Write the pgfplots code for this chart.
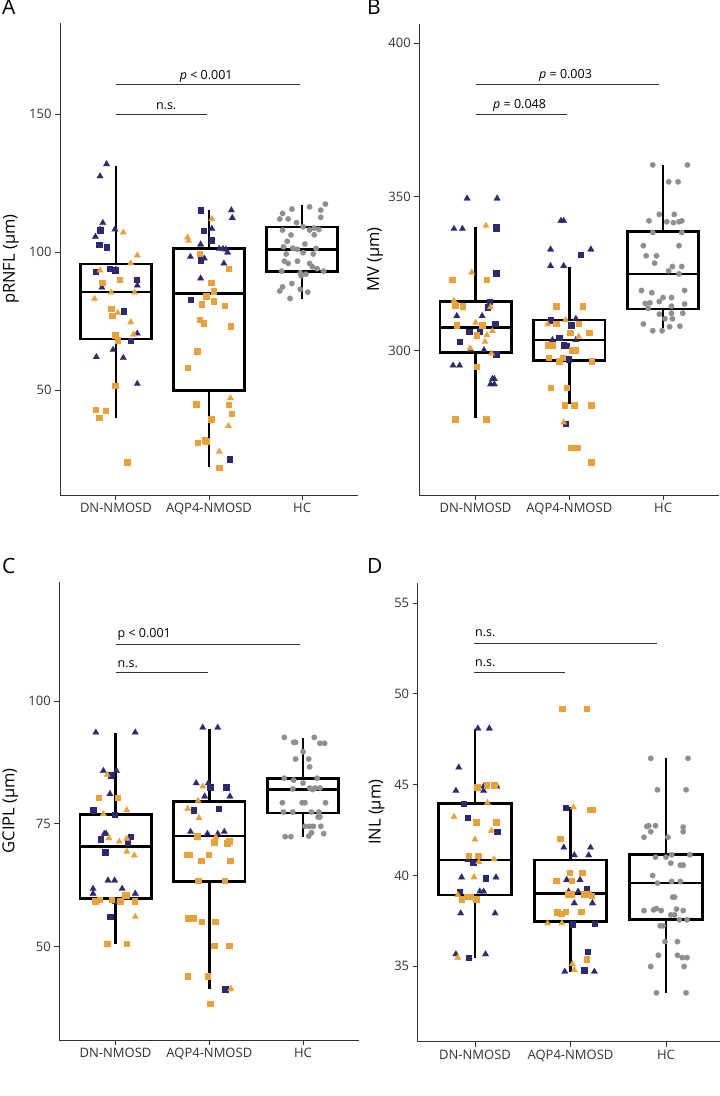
\documentclass[border=0pt]{standalone}
\usepackage{fontspec}
\setmainfont{Open Sans}
\usepackage{pgfplots}
\pgfplotsset{compat=1.18}
\definecolor{navyc}{HTML}{2C2A6F}
\definecolor{orangec}{HTML}{E9A23B}
\definecolor{grayc}{HTML}{8F8F8F}
\definecolor{axisc}{HTML}{333333}
\definecolor{labc}{HTML}{333333}
\pgfplotsset{
  panel/.style={scale only axis, xmin=0.4, xmax=3.6,
    axis x line*=bottom, axis y line*=left,
    axis line style={draw=axisc, line width=0.9pt, -},
    tick style={draw=axisc, line width=0.9pt},
    tick align=outside, major tick length=5pt,
    xtick={1,2,3}, xticklabels={DN-NMOSD,AQP4-NMOSD,HC},
    tick label style={font=\fontsize{13}{15}\selectfont, text=labc},
    /pgf/number format/assume math mode=true,
    clip=false,
    every axis y label/.style={rotate=90, anchor=center, font=\fontsize{16.5}{18}\selectfont, text=black}},
  ntri/.style={only marks, draw=navyc, fill=navyc, mark=triangle*, mark size=3.8pt, mark options={line width=0.1pt}},
  nsq/.style={only marks, draw=navyc, fill=navyc, mark=square*, mark size=2.7pt, mark options={line width=0.1pt}},
  otri/.style={only marks, draw=orangec, fill=orangec, mark=triangle*, mark size=3.8pt, mark options={line width=0.1pt}},
  osq/.style={only marks, draw=orangec, fill=orangec, mark=square*, mark size=2.7pt, mark options={line width=0.1pt}},
  gcirc/.style={only marks, draw=grayc, fill=grayc, mark=*, mark size=2.8pt, mark options={line width=0.1pt}},
  bx/.style={draw=black, line width=2.7pt, mark=none, solid, line join=miter},
}
% box: left, centre, right, lower whisker, Q1, median, Q3, upper whisker
\newcommand{\bxp}[8]{%
  \addplot[bx] coordinates {(#2,#5)(#3,#5)(#3,#7)(#1,#7)(#1,#5)(#2,#5)};
  \addplot[bx] coordinates {(#1,#6)(#3,#6)};
  \addplot[bx] coordinates {(#2,#7)(#2,#8)};
  \addplot[bx] coordinates {(#2,#5)(#2,#4)};
}
\tikzset{brk/.style={draw=axisc, line width=0.9pt}, sig/.style={font=\fontsize{12.5}{14}\selectfont, text=black}}
\begin{document}
\begin{tikzpicture}[x=1pt,y=1pt]
% ---------------- Panel A
\begin{axis}[panel, at={(60pt,601pt)}, anchor=south west, width=298pt, height=471.7pt,
  ymin=12.0, ymax=182.9, ytick={50,100,150}, ylabel={pRNFL (µm)},
  ylabel style={at={(axis description cs:-0.1644,0.5)}}]
\bxp{0.62}{1}{1.38}{40.0}{68.5}{85.5}{95.7}{131.3}
\bxp{1.62}{2}{2.38}{22.0}{49.8}{85.0}{101.2}{115.2}
\bxp{2.62}{3}{3.38}{82.9}{93.0}{101.0}{109.1}{117.1}
\addplot[ntri] coordinates {(0.90,131.9)(0.83,127.5)(0.86,110.6)(0.83,108.2)(0.78,105.6)(0.99,108.2)(1.00,93.7)(0.85,87.2)(1.23,87.9)(1.23,70.5)(0.97,64.6)(0.79,62.0)(1.08,61.7)(1.23,52.3)
 (2.24,115.2)(2.25,112.4)(2.03,108.5)(1.91,102.8)(2.11,101.2)(2.15,101.2)(2.18,101.0)(2.20,99.9)(1.80,98.3)(1.95,97.7)(2.16,95.9)(1.91,90.5)};
\addplot[nsq] coordinates {(0.83,108.0)(0.82,102.8)(0.90,101.9)(0.93,94.1)(0.99,93.5)(0.78,93.0)(1.22,90.0)(1.08,78.7)(1.16,68.0)
 (1.91,115.2)(1.94,107.9)(2.03,104.3)(1.91,97.1)(1.80,82.9)(2.22,25.0)};
\addplot[otri] coordinates {(1.08,107.1)(1.23,98.8)(1.16,96.0)(0.83,93.4)(0.95,85.4)(1.20,85.4)(0.77,83.1)(1.02,78.0)(1.16,74.6)(1.19,70.2)
 (2.03,112.0)(1.77,105.3)(1.78,104.1)(2.23,47.1)(2.21,37.0)(2.11,27.7)};
\addplot[osq] coordinates {(1.04,90.1)(0.85,88.9)(0.95,79.6)(0.96,77.1)(0.99,70.0)(1.02,68.2)(0.99,51.6)(0.78,43.0)(0.89,42.6)(0.82,40.0)(1.12,23.9)
 (1.90,99.5)(2.21,94.1)(2.02,89.0)(2.05,85.9)(1.97,84.1)(2.05,82.3)(1.92,81.2)(2.17,80.6)(1.90,75.6)(1.94,74.3)(2.23,73.2)(1.87,64.1)(1.77,58.1)(1.86,45.0)(2.21,44.8)(2.24,41.5)(2.02,39.5)(1.95,31.9)(1.97,31.5)(1.88,30.9)(2.11,22.0)};
\addplot[gcirc] coordinates {(3.25,117.4)(3.08,116.4)(2.89,115.6)(2.79,114.0)(3.20,115.2)(2.76,112.0)(2.85,112.0)(2.94,110.7)(3.20,112.6)(3.01,109.2)(3.13,108.7)(3.08,108.0)(3.18,108.2)(2.79,108.0)(2.88,106.2)(3.13,106.3)(2.84,103.9)(3.03,102.9)(2.80,101.9)(2.90,101.4)(2.95,101.0)(3.15,101.3)(2.83,99.3)(3.01,99.8)(3.12,99.3)(2.81,96.7)(2.85,95.9)(2.95,96.7)(3.08,95.9)(3.11,94.7)(3.16,94.0)(3.23,93.1)(2.98,92.5)(3.04,92.0)(2.78,93.1)(2.99,91.5)(2.89,88.6)(2.79,87.4)(2.76,85.9)(2.98,86.5)(3.06,85.5)(2.87,83.2)};
\draw[brk] (axis cs:1,160.6) -- (axis cs:2.98,160.6);
\draw[brk] (axis cs:1,150.0) -- (axis cs:1.98,150.0);
\node[sig, anchor=base] at (axis cs:1.97,162.7) {\textit{p} < 0.001};
\node[sig, anchor=base] at (axis cs:1.54,151.8) {n.s.};
\end{axis}
% ---------------- Panel B
\begin{axis}[panel, at={(419.3pt,601pt)}, anchor=south west, width=300pt, height=471pt,
  ymin=252.9, ymax=406.3, ytick={300,350,400}, ylabel={MV (µm)},
  ylabel style={at={(axis description cs:-0.1467,0.5)}}]
\bxp{0.62}{1}{1.38}{277.9}{299.2}{307.4}{315.9}{340.3}
\bxp{1.62}{2}{2.38}{282.4}{296.6}{303.4}{309.9}{327.3}
\bxp{2.62}{3}{3.38}{307.2}{313.5}{324.9}{338.7}{360.3}
\addplot[ntri] coordinates {(0.91,349.5)(1.23,349.5)(0.77,339.6)(0.86,339.6)(0.80,311.2)(1.07,311.2)(0.95,300.1)(1.09,300.1)(0.76,295.1)(0.83,295.1)(1.18,290.7)(1.20,290.7)(1.16,289.0)(1.20,289.0)
 (1.91,342.2)(1.94,342.2)(1.80,332.9)(2.23,332.9)(1.80,327.5)(1.94,327.5)(2.07,310.3)(1.82,303.4)(2.07,303.4)};
\addplot[nsq] coordinates {(1.22,340.3)(1.22,339.6)(1.22,325.2)(1.15,315.9)(1.13,314.1)(1.21,308.8)(0.93,306.1)(1.04,306.3)(0.83,302.8)(1.22,298.8)
 (2.12,331.2)(1.80,309.9)(2.02,308.3)(1.89,304.1)(1.94,301.7)(1.97,301.5)(1.99,297.2)(1.96,276.2)};
\addplot[otri] coordinates {(1.11,340.6)(0.96,325.4)(0.77,316.2)(1.16,314.1)(1.00,309.0)(1.18,306.3)(1.12,305.0)(1.10,302.8)(0.94,300.7)(1.17,299.0)
 (1.96,309.9)(1.77,308.5)(2.10,304.5)(1.94,276.5)};
\addplot[osq] coordinates {(0.75,323.1)(1.12,323.1)(0.78,314.8)(0.86,314.5)(0.80,308.3)(1.07,308.3)(1.01,305.0)(1.01,294.7)(0.78,277.6)(1.11,277.6)
 (1.86,314.4)(2.14,314.4)(1.86,308.8)(2.10,308.8)(2.01,305.9)(2.21,305.9)(1.77,301.7)(1.82,301.7)(2.03,300.1)(2.06,300.1)(1.78,297.7)(1.93,297.6)(1.89,296.5)(2.24,296.5)(1.80,287.8)(1.97,287.8)(1.95,282.2)(2.05,282.2)(2.23,282.2)(2.02,268.4)(2.09,268.4)(2.23,263.6)};
\addplot[gcirc] coordinates {(2.89,360.4)(3.26,360.4)(3.06,354.9)(3.16,354.9)(2.96,344.3)(3.12,344.3)(2.85,342.2)(3.04,341.9)(3.11,341.6)(3.17,341.9)(3.20,342.2)(2.89,338.4)(3.20,338.4)(2.79,334.1)(3.17,334.1)(2.82,330.8)(2.93,330.8)(2.91,328.4)(3.10,327.3)(3.20,327.3)(3.06,325.9)(3.17,324.9)(2.77,319.5)(2.88,318.8)(3.23,319.5)(3.00,317.2)(3.09,317.2)(2.81,315.3)(2.96,315.9)(2.86,315.5)(3.23,315.1)(2.84,313.7)(3.09,314.4)(2.96,311.8)(3.09,312.1)(3.21,312.1)(3.02,310.3)(3.10,310.3)(2.79,308.6)(3.18,307.9)(3.07,307.7)(2.89,306.4)(2.99,306.4)};
\draw[brk] (axis cs:1,386.5) -- (axis cs:2.96,386.5);
\draw[brk] (axis cs:1,377.0) -- (axis cs:1.98,377.0);
\node[sig, anchor=base] at (axis cs:1.96,388.6) {\textit{p} = 0.003};
\node[sig, anchor=base] at (axis cs:1.47,378.8) {\textit{p} = 0.048};
\end{axis}
% ---------------- Panel C
\begin{axis}[panel, at={(59.3pt,56pt)}, anchor=south west, width=300pt, height=458.3pt,
  ymin=31.0, ymax=124.3, ytick={50,75,100}, ylabel={GCIPL (µm)},
  ylabel style={at={(axis description cs:-0.163,0.5)}}]
\bxp{0.62}{1}{1.38}{50.6}{59.8}{70.4}{76.9}{93.4}
\bxp{1.62}{2}{2.38}{41.3}{63.3}{72.5}{79.6}{94.4}
\bxp{2.62}{3}{3.38}{72.4}{77.2}{82.0}{84.3}{92.5}
\addplot[ntri] coordinates {(0.79,93.6)(1.21,93.6)(0.87,85.8)(1.01,85.8)(0.94,81.1)(0.88,73.0)(0.90,73.0)(0.92,63.5)(0.99,63.5)(0.76,61.8)(1.07,61.8)(0.76,60.8)(1.21,60.8)(1.00,59.1)
 (1.93,94.6)(2.09,94.6)(1.86,83.3)(1.99,83.3)(1.95,80.6)(2.22,80.6)(1.80,73.4)(1.98,73.0)(2.09,73.0)(2.16,73.4)};
\addplot[nsq] coordinates {(0.95,84.9)(0.76,77.8)(0.99,76.9)(0.84,71.9)(1.16,72.4)(1.13,71.3)(0.89,69.3)(0.94,56.1)
 (2.01,82.5)(2.18,82.5)(2.10,78.1)(1.83,77.8)(2.17,41.4)};
\addplot[otri] coordinates {(0.91,85.0)(1.12,77.8)(0.87,77.0)(0.93,72.1)(1.12,72.0)(1.04,71.4)(1.12,69.4)(1.20,68.6)(1.21,56.1)
 (1.93,82.6)(1.88,79.7)(1.77,78.1)(1.89,76.2)(2.07,72.3)(2.23,41.4)};
\addplot[osq] coordinates {(0.82,80.4)(1.02,80.4)(0.78,59.3)(0.83,59.6)(0.96,59.6)(1.05,59.3)(1.10,60.5)(1.12,60.5)(1.20,59.3)(0.91,50.6)(1.12,50.6)
 (1.87,72.5)(2.21,71.5)(2.05,71.3)(2.19,71.1)(1.76,68.8)(1.79,68.8)(1.99,68.8)(1.91,67.5)(2.22,67.5)(1.88,63.5)(2.16,63.5)(1.77,55.8)(1.83,55.8)(1.92,55.1)(2.06,55.1)(2.05,50.2)(2.21,50.2)(1.77,44.0)(1.98,44.0)(2.01,38.4)};
\addplot[gcirc] coordinates {(2.80,92.6)(3.12,92.6)(2.90,91.6)(2.92,91.6)(3.18,91.4)(3.23,91.4)(3.00,89.7)(2.92,88.2)(3.06,88.2)(3.07,86.6)(2.80,84.3)(2.90,83.9)(3.15,84.3)(3.00,83.3)(2.89,82.1)(3.07,82.3)(3.10,82.0)(3.13,82.3)(3.18,82.3)(2.78,79.3)(2.99,79.3)(3.02,79.3)(3.24,79.3)(2.79,77.4)(2.89,77.4)(3.09,77.4)(3.17,77.4)(3.16,76.4)(3.18,76.4)(3.02,74.5)(3.07,74.5)(3.11,74.5)(3.19,74.5)(3.22,73.0)(2.81,72.4)(2.87,72.4)(3.06,72.5)(3.09,73.2)};
\draw[brk] (axis cs:1,111.6) -- (axis cs:2.97,111.6);
\draw[brk] (axis cs:1,105.8) -- (axis cs:1.99,105.8);
\node[sig, anchor=base west, inner xsep=0pt] at (axis cs:1.02,113.0) {p < 0.001};
\node[sig, anchor=base west, inner xsep=0pt] at (axis cs:1.02,106.9) {n.s.};
\end{axis}
% ---------------- Panel D
\begin{axis}[panel, at={(417.7pt,54.3pt)}, anchor=south west, width=305.6pt, height=459pt,
  ymin=30.85, ymax=56.12, ytick={35,40,45,50,55}, ylabel={INL (µm)},
  ylabel style={at={(axis description cs:-0.134,0.5)}}]
\bxp{0.62}{1}{1.38}{35.45}{38.93}{40.86}{43.95}{48.08}
\bxp{1.62}{2}{2.38}{34.66}{37.48}{38.99}{40.86}{43.75}
\bxp{2.62}{3}{3.38}{33.55}{37.59}{39.58}{41.14}{46.45}
\addplot[ntri] coordinates {(1.03,48.1)(1.15,48.1)(0.83,45.95)(0.80,44.67)(1.09,44.90)(1.09,44.67)(1.23,44.90)(0.93,40.86)(0.86,39.9)(1.22,39.9)(1.05,39.12)(1.09,39.12)(0.85,37.92)(1.21,37.92)(0.80,35.67)(1.11,35.67)
 (1.93,41.54)(2.21,41.54)(2.04,41.12)(2.19,41.12)(1.96,39.76)(2.10,39.76)(2.08,39.12)(1.98,39.12)(2.04,38.48)(2.23,38.48)(1.94,34.71)(2.25,34.71)};
\addplot[nsq] coordinates {(0.88,43.95)(0.92,43.20)(1.23,42.42)(0.98,40.72)(1.11,39.85)(0.84,39.12)(0.93,35.48)
 (1.95,43.73)(2.17,39.27)(2.02,37.32)(2.25,37.37)(2.18,35.81)(2.14,34.80)};
\addplot[otri] coordinates {(1.13,44.00)(0.78,43.23)(1.17,42.46)(1.00,41.98)(1.04,40.75)(1.20,40.90)(0.99,39.91)(0.82,38.93)(0.82,35.48)
 (2.03,43.76)(1.76,37.37)(1.91,37.37)(2.02,35.13)(2.04,34.80)};
\addplot[osq] coordinates {(1.02,44.87)(1.12,44.98)(1.20,44.98)(1.01,42.94)(1.22,42.94)(0.93,41.10)(1.03,41.10)(0.86,38.70)(0.91,38.84)(0.95,38.84)(1.01,38.70)
 (1.91,49.18)(2.17,49.18)(2.20,43.62)(2.23,43.62)(1.89,42.02)(1.99,40.17)(2.12,40.17)(1.85,39.71)(2.01,39.71)(1.97,38.97)(2.01,38.97)(2.14,38.97)(2.19,38.97)(2.22,38.90)(1.86,37.98)(1.90,37.89)(1.95,38.02)(2.11,38.02)(2.17,35.39)};
\addplot[gcirc] coordinates {(2.84,46.45)(3.23,46.45)(2.91,44.72)(3.21,44.72)(2.80,42.70)(2.82,42.74)(2.89,42.74)(2.84,42.41)(3.18,42.66)(3.18,42.41)(2.77,42.11)(3.02,42.11)(2.89,41.01)(3.00,41.01)(3.06,41.14)(3.25,41.14)(3.05,40.68)(3.15,40.57)(3.18,40.57)(2.86,40.00)(2.91,39.58)(3.06,39.67)(3.15,39.67)(3.07,38.81)(3.09,38.81)(2.77,38.07)(2.87,38.11)(2.90,38.18)(2.95,38.07)(3.11,38.15)(3.18,38.07)(3.05,37.83)(3.09,37.83)(3.14,37.56)(3.22,37.56)(2.94,37.23)(2.97,37.23)(2.99,36.36)(3.12,36.36)(2.92,35.61)(3.12,35.61)(3.17,35.48)(3.22,35.48)(2.84,34.99)(3.19,34.99)(2.90,33.54)(3.21,33.54)};
\draw[brk] (axis cs:0.99,52.76) -- (axis cs:2.91,52.76);
\draw[brk] (axis cs:0.99,51.19) -- (axis cs:1.94,51.19);
\node[sig, anchor=base west, inner xsep=0pt] at (axis cs:1.0,53.16) {n.s.};
\node[sig, anchor=base west, inner xsep=0pt] at (axis cs:1.0,51.51) {n.s.};
\end{axis}
% panel letters
\node[anchor=base west, inner sep=0pt, font=\fontsize{21}{23}\selectfont] at (2,1081) {A};
\node[anchor=base west, inner sep=0pt, font=\fontsize{21}{23}\selectfont] at (367,1081) {B};
\node[anchor=base west, inner sep=0pt, font=\fontsize{21}{23}\selectfont] at (2,522.7) {C};
\node[anchor=base west, inner sep=0pt, font=\fontsize{21}{23}\selectfont] at (367,522.7) {D};
\pgfresetboundingbox
\useasboundingbox (0,0) rectangle (720,1096);
\end{tikzpicture}
\end{document}
